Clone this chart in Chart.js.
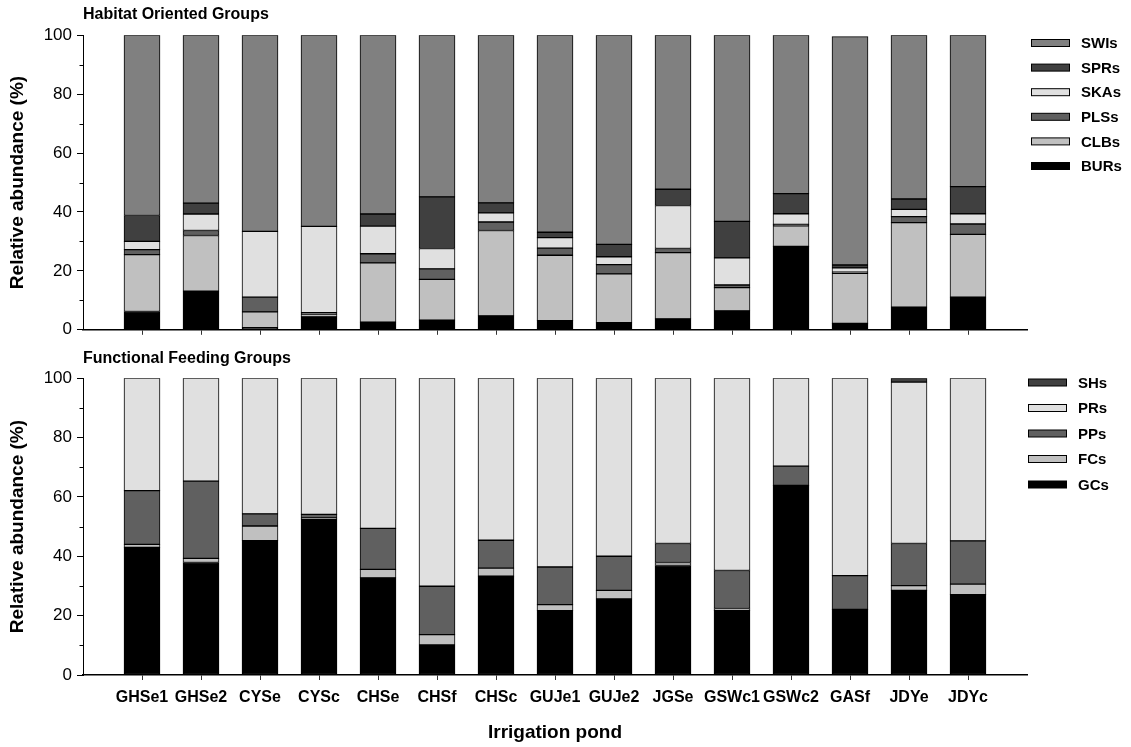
<!DOCTYPE html>
<html><head><meta charset="utf-8">
<script src="https://cdn.jsdelivr.net/npm/chart.js@4.4.0/dist/chart.umd.min.js"></script>
<style>
html,body{margin:0;padding:0;background:#fff;}
#wrap{position:relative;width:1131px;height:747px;background:#fff;}
#c1{position:absolute;left:0;top:0;}
#c2{position:absolute;left:0;top:345px;}
</style></head><body>
<div id="wrap"><canvas id="c1" width="1131" height="345"></canvas><canvas id="c2" width="1131" height="402"></canvas></div>
<script>
// ---- Data ----
const ponds = ['GHSe1','GHSe2','CYSe','CYSc','CHSe','CHSf','CHSc','GUJe1','GUJe2','JGSe','GSWc1','GSWc2','GASf','JDYe','JDYc'];
const yTicks = [0, 20, 40, 60, 80, 100];
const yMinorTicks = [10, 30, 50, 70, 90];

// Habitat oriented groups (%)
const BURs = [6.2, 13.1, 0.7, 4.4, 2.6, 3.3, 4.7, 3.1, 2.4, 3.7, 6.4, 28.3, 2.2, 7.7, 11.1];
const CLBs = [19.3, 18.9, 5.4, 0.9, 20.1, 13.8, 29.0, 22.2, 16.6, 22.5, 7.9, 7.0, 17.0, 28.7, 21.3];
const PLSs = [1.7, 1.7, 5.0, 0.5, 3.1, 3.6, 2.9, 2.4, 3.1, 1.4, 0.9, 0.5, 0.4, 2.0, 3.5];
const SKAs = [2.8, 5.6, 22.3, 29.3, 9.4, 6.9, 3.1, 3.6, 2.7, 14.6, 9.2, 3.6, 1.4, 2.5, 3.5];
const SPRs = [8.8, 3.7, 0, 0, 4.1, 17.5, 3.4, 1.8, 4.2, 5.5, 12.4, 6.8, 1.0, 3.5, 9.2];
const SWIs = [61.2, 57.0, 66.6, 64.9, 60.7, 54.9, 56.9, 66.9, 71.0, 52.3, 63.2, 53.9, 77.5, 55.6, 51.4];

// Functional feeding groups (%)
const GCs = [43.0, 37.9, 45.3, 52.6, 32.7, 10.1, 33.3, 21.7, 25.6, 36.9, 21.7, 63.9, 22.1, 28.5, 27.1];
const FCs = [1.0, 1.4, 4.9, 0.3, 2.9, 3.5, 2.7, 2.0, 2.9, 1.0, 0.7, 0, 0, 1.6, 3.5];
const PPs = [18.1, 26.0, 4.1, 1.2, 13.8, 16.3, 9.4, 12.7, 11.5, 6.4, 12.8, 6.5, 11.4, 14.2, 14.6];
const PRs = [37.9, 34.7, 45.7, 45.9, 50.6, 70.1, 54.6, 63.6, 60.0, 55.7, 64.8, 29.6, 66.5, 54.4, 54.8];
const SHs = [0, 0, 0, 0, 0, 0, 0, 0, 0, 0, 0, 0, 0, 1.3, 0];

// ---- Helpers ----
const FONT = "'Liberation Sans', Arial, Helvetica, sans-serif";
Chart.defaults.font.family = FONT;
Chart.defaults.color = '#000';

const pad = arr => [null, ...arr, null];
const padLabels = arr => ['', ...arr, ''];

const minorTickPlugin = {
  id: 'minorTicks',
  afterDraw(chart) {
    const y = chart.scales.y, ctx = chart.ctx, left = chart.chartArea.left;
    ctx.save();
    ctx.strokeStyle = '#000';
    ctx.lineWidth = 1;
    yMinorTicks.forEach(v => {
      const py = Math.round(y.getPixelForValue(v)) + 0.5;
      ctx.beginPath(); ctx.moveTo(left - 3.5, py); ctx.lineTo(left, py); ctx.stroke();
    });
    ctx.restore();
  }
};

const legendPlugin = {
  id: 'sideLegend',
  afterDraw(chart, args, opts) {
    const ctx = chart.ctx;
    const ds = chart.data.datasets.slice().reverse();
    ctx.save();
    ctx.font = 'bold 15px ' + FONT;
    ctx.textBaseline = 'middle';
    ctx.textAlign = 'left';
    ds.forEach((d, i) => {
      const cy = opts.y0 + i * opts.step;
      ctx.fillStyle = d.backgroundColor;
      ctx.fillRect(opts.x0, cy - 3.5, 39, 7);
      ctx.strokeStyle = '#000';
      ctx.lineWidth = 1;
      ctx.strokeRect(opts.x0 + 0.5, cy - 3.5, 38, 7);
      ctx.fillStyle = '#000';
      ctx.fillText(d.label, opts.x0 + 50, cy + 1);
    });
    ctx.restore();
  }
};

function makeChart(canvas, title, series, showX, legendOpts, titlePad) {
  return new Chart(canvas, {
    type: 'bar',
    data: {
      labels: padLabels(ponds),
      datasets: series.map(s => ({
        label: s.label, data: pad(s.data), backgroundColor: s.color,
        borderColor: '#000', borderWidth: 1, borderSkipped: false, barThickness: 36
      }))
    },
    options: {
      responsive: false, animation: false, devicePixelRatio: 1,
      layout: { padding: { left: 0, right: 104, top: 0, bottom: 0 } },
      plugins: {
        legend: { display: false }, tooltip: { enabled: false },
        title: { display: true, text: title, align: 'start', fullSize: false,
                 font: { size: 16, weight: 'bold' }, padding: titlePad, color: '#000' },
        sideLegend: legendOpts
      },
      scales: {
        x: {
          stacked: true, offset: false,
          grid: { drawOnChartArea: false, offset: false, tickLength: 5,
                  tickColor: c => (c.index === 0 || c.index === ponds.length + 1) ? 'rgba(0,0,0,0)' : '#333' },
          border: { color: '#000', width: 1.5 },
          ticks: { display: showX, autoSkip: false, maxRotation: 0, minRotation: 0,
                   font: { size: 16, weight: 'bold' }, padding: 8, color: '#000' },
          title: { display: showX, text: 'Irrigation pond', font: { size: 19, weight: 'bold' }, color: '#000', padding: { top: 4, bottom: 2.5 } },
          afterFit: s => { s.height = showX ? 72 : 13; }
        },
        y: {
          stacked: true, min: 0, max: 100,
          afterBuildTicks: s => { s.ticks = yTicks.map(v => ({ value: v })); },
          ticks: { font: { size: 17 }, padding: 5, color: '#000' },
          grid: { drawOnChartArea: false, tickLength: 6, tickColor: '#000' },
          border: { color: '#000', width: 1 },
          title: { display: true, text: 'Relative abundance (%)', font: { size: 19, weight: 'bold' }, color: '#000', padding: { top: 6.5, bottom: 0 } },
          afterFit: s => { s.width = 83; }
        }
      }
    },
    plugins: [minorTickPlugin, legendPlugin]
  });
}

makeChart(document.getElementById('c1'), 'Habitat Oriented Groups', [
  { label: 'BURs', data: BURs, color: '#000000' },
  { label: 'CLBs', data: CLBs, color: '#c0c0c0' },
  { label: 'PLSs', data: PLSs, color: '#606060' },
  { label: 'SKAs', data: SKAs, color: '#e0e0e0' },
  { label: 'SPRs', data: SPRs, color: '#404040' },
  { label: 'SWIs', data: SWIs, color: '#808080' }
], false, { x0: 1031, y0: 43, step: 24.6 }, { top: 5, bottom: 11 });

makeChart(document.getElementById('c2'), 'Functional Feeding Groups', [
  { label: 'GCs', data: GCs, color: '#000000' },
  { label: 'FCs', data: FCs, color: '#c0c0c0' },
  { label: 'PPs', data: PPs, color: '#606060' },
  { label: 'PRs', data: PRs, color: '#e0e0e0' },
  { label: 'SHs', data: SHs, color: '#404040' }
], true, { x0: 1028, y0: 37.5, step: 25.5 }, { top: 4, bottom: 10 });
</script>
</body></html>
